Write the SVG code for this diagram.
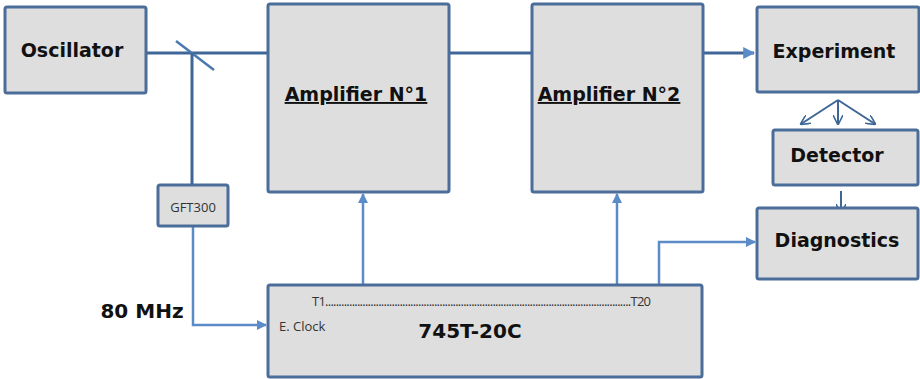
<svg xmlns="http://www.w3.org/2000/svg" width="920" height="379" viewBox="0 0 920 379">
<style>
.box{fill:#dedede;stroke:#4a6d9a;stroke-width:3}
.t{font-family:"DejaVu Sans",Verdana,sans-serif;font-weight:bold;fill:#111}
.s{font-family:"Open Sans","DejaVu Sans",sans-serif;fill:#333}
.dk{stroke:#3e6697;stroke-width:3;fill:none}
.lt{stroke:#5b8cc8;stroke-width:2.5;fill:none}
</style>
<defs>
<marker id="a" viewBox="0 0 10 10" refX="9" refY="5" markerWidth="4" markerHeight="4" orient="auto"><path d="M0,0 L10,5 L0,10 z" fill="#5b8cc8"/></marker>
<marker id="v" viewBox="0 0 10 10" refX="9" refY="5" markerWidth="5" markerHeight="5" orient="auto"><path d="M0,0 L10,5 L0,10" fill="none" stroke="#3e6697" stroke-width="1.6"/></marker>
</defs>
<g id="connectors">
<line class="dk" x1="146" y1="53" x2="268" y2="53"/>
<line x1="176" y1="41" x2="214" y2="70" stroke="#4a78b0" stroke-width="2.5"/>
<line class="dk" x1="192" y1="53" x2="192" y2="185"/>
<line class="dk" x1="449" y1="53" x2="532" y2="53"/>
<line class="dk" x1="703" y1="53" x2="754" y2="53" marker-end="url(#a)"/>
<polyline class="lt" points="193,226 193,325 266,325" marker-end="url(#a)"/>
<line class="lt" x1="363" y1="285" x2="363" y2="194" marker-end="url(#a)"/>
<line class="lt" x1="617" y1="285" x2="617" y2="194" marker-end="url(#a)"/>
<polyline class="lt" points="659,285 659,242 755,242" marker-end="url(#a)"/>
<line stroke="#3e6697" stroke-width="2" x1="838" y1="100" x2="801" y2="124" marker-end="url(#v)"/>
<line stroke="#3e6697" stroke-width="2" x1="838" y1="100" x2="838" y2="124" marker-end="url(#v)"/>
<line stroke="#3e6697" stroke-width="2" x1="838" y1="100" x2="875" y2="124" marker-end="url(#v)"/>
<line stroke="#3e6697" stroke-width="2" x1="841" y1="191" x2="841" y2="213" marker-end="url(#v)"/>
</g>
<g id="oscillator"><rect class="box" x="5" y="7" width="141" height="86" rx="2"/><text class="t" x="72" y="57" font-size="19" text-anchor="middle">Oscillator</text></g>
<g id="amp1"><rect class="box" x="268" y="4" width="181" height="188" rx="2"/><text class="t" x="356" y="101" font-size="19" text-anchor="middle" text-decoration="underline">Amplifier N°1</text></g>
<g id="amp2"><rect class="box" x="532" y="4" width="171" height="188" rx="2"/><text class="t" x="609" y="101" font-size="19" text-anchor="middle" text-decoration="underline">Amplifier N°2</text></g>
<g id="experiment"><rect class="box" x="757" y="7" width="162" height="85" rx="2"/><text class="t" x="834" y="58" font-size="19" text-anchor="middle">Experiment</text></g>
<g id="detector"><rect class="box" x="773" y="130" width="145" height="55" rx="2"/><text class="t" x="837" y="162" font-size="19" text-anchor="middle">Detector</text></g>
<g id="diagnostics"><rect class="box" x="757" y="208" width="161" height="71" rx="2"/><text class="t" x="837" y="247" font-size="19" text-anchor="middle">Diagnostics</text></g>
<g id="gft300"><rect class="box" x="158" y="185" width="70" height="41" rx="2"/><text class="s" x="193" y="212" font-size="13" text-anchor="middle">GFT300</text></g>
<g id="timer"><rect class="box" x="268" y="285" width="434" height="92" rx="2"/>
<text class="s" x="312" y="306" font-size="13" textLength="339" lengthAdjust="spacing">T1...................................................................................................................T20</text>
<text class="s" x="279" y="331" font-size="13">E. Clock</text>
<text class="t" x="470" y="338" font-size="20" text-anchor="middle">745T-20C</text></g>
<text class="t" x="142" y="318" font-size="20" text-anchor="middle">80 MHz</text>
</svg>
